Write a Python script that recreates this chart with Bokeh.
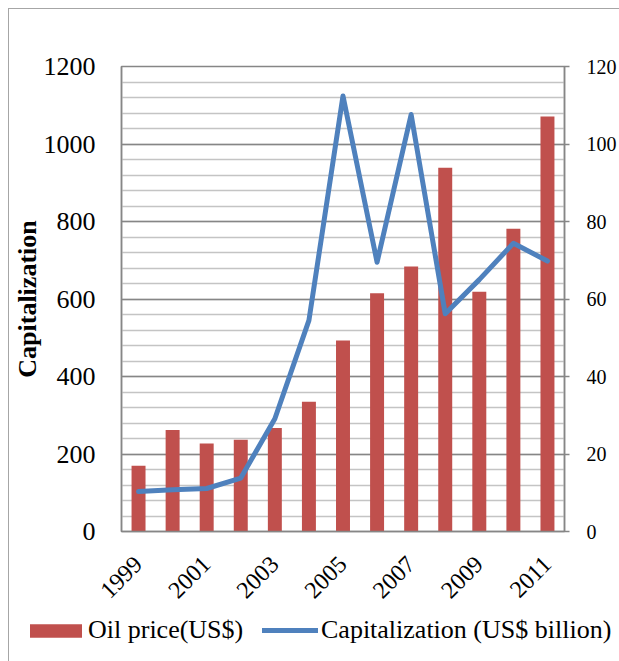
import math

from bokeh.embed import file_html
from bokeh.resources import INLINE
from bokeh.layouts import column
from bokeh.plotting import figure
from bokeh.models import (Range1d, LinearAxis, FixedTicker, SingleIntervalTicker,
                          Legend, LegendItem, ColumnDataSource)

# Annual series, 1999-2011
years = ["1999", "2000", "2001", "2002", "2003", "2004", "2005",
         "2006", "2007", "2008", "2009", "2010", "2011"]
oil_price = [170, 262, 227, 237, 267, 335, 493, 615, 684, 939, 619, 781, 1071]
capitalization = [10.3, 10.8, 11.1, 13.8, 29.1, 54.5, 112.4, 69.5, 107.6, 56.2, 65.0, 74.4, 69.8]
shown_years = ["1999", "2001", "2003", "2005", "2007", "2009", "2011"]

FONT = "Liberation Serif"
RED = "#C0504D"
BLUE = "#4F81BD"
AXIS_GREY = "#868686"

idx = list(range(len(years)))
src = ColumnDataSource(dict(x=idx, oil=oil_price, cap=capitalization))

p = figure(width=610, height=603, output_backend="svg", toolbar_location=None,
           x_range=Range1d(-0.5, len(years) - 0.5), y_range=Range1d(0, 1200),
           min_border_left=111, min_border_top=57, min_border_right=54,
           min_border_bottom=81)
p.frame_align = False
p.outline_line_color = AXIS_GREY
p.outline_line_width = 1.5
p.background_fill_color = "white"
p.border_fill_color = "white"

p.extra_y_ranges = {"cap": Range1d(0, 120)}

p.vbar(x="x", top="oil", width=0.41, source=src, fill_color=RED, line_color=None)
p.line(x="x", y="cap", source=src, y_range_name="cap", line_color=BLUE,
       line_width=5, line_join="round", line_cap="round")

# left axis (oil price scale)
yl = p.yaxis[0]
yl.ticker = SingleIntervalTicker(interval=200, num_minor_ticks=5)
yl.major_label_text_font = FONT
yl.major_label_text_font_size = "26px"
yl.major_label_text_color = "black"
yl.major_tick_line_color = None
yl.minor_tick_line_color = None
yl.major_tick_out = 0
yl.major_label_standoff = 22
yl.axis_line_color = AXIS_GREY
yl.axis_line_width = 1.5
yl.axis_label = "Capitalization"
yl.axis_label_text_font = FONT
yl.axis_label_text_font_size = "26px"
yl.axis_label_text_font_style = "bold"
yl.axis_label_text_color = "black"
yl.axis_label_standoff = -1

# right axis (capitalization scale)
yr = LinearAxis(y_range_name="cap", ticker=FixedTicker(ticks=[0, 20, 40, 60, 80, 100, 120]))
yr.major_label_orientation = 0
yr.major_label_text_font = FONT
yr.major_label_text_font_size = "20px"
yr.major_label_text_color = "black"
yr.major_label_text_align = "left"
yr.major_tick_line_color = AXIS_GREY
yr.major_tick_line_width = 1.5
yr.major_tick_out = 5
yr.major_tick_in = 0
yr.minor_tick_line_color = None
yr.major_label_standoff = 17
yr.axis_line_color = AXIS_GREY
yr.axis_line_width = 1.5
p.add_layout(yr, "right")

# bottom axis with every other year
xa = p.xaxis[0]
xa.ticker = FixedTicker(ticks=[years.index(y) for y in shown_years])
xa.major_label_overrides = {years.index(y): y for y in shown_years}
xa.major_label_orientation = math.pi / 4
xa.major_label_text_font = FONT
xa.major_label_text_font_size = "24px"
xa.major_label_text_color = "black"
xa.major_tick_line_color = None
xa.minor_tick_line_color = None
xa.major_tick_out = 0
xa.major_label_standoff = 29
xa.axis_line_color = AXIS_GREY
xa.axis_line_width = 1.5

# gridlines
p.xgrid.grid_line_color = None
p.ygrid.ticker = SingleIntervalTicker(interval=200, num_minor_ticks=5)
p.ygrid.grid_line_color = AXIS_GREY
p.ygrid.grid_line_width = 1.5
p.ygrid.minor_grid_line_color = "#c4c4c4"
p.ygrid.minor_grid_line_width = 1.5

# legend strip underneath the chart; its sample glyphs sit outside the visible range
leg = figure(width=610, height=49, output_backend="svg", toolbar_location=None,
             x_range=Range1d(0, 1), y_range=Range1d(0, 1),
             x_axis_location=None, y_axis_location=None, min_border=0)
leg.frame_align = False
leg.grid.visible = False
leg.outline_line_color = None
leg.background_fill_color = "white"
leg.border_fill_color = "white"
keys = ColumnDataSource(dict(x=[5, 6], y=[5, 6]))
k_bar = leg.vbar(x="x", top="y", width=0.41, source=keys, fill_color=RED, line_color=None)
k_line = leg.line(x="x", y="y", source=keys, line_color=BLUE, line_width=5, line_cap="round")

common = dict(orientation="horizontal", label_text_font=FONT, label_text_font_size="26px",
              label_text_color="black", padding=0, margin=0,
              border_line_color=None, background_fill_alpha=0)
leg_oil = Legend(items=[LegendItem(label="Oil price(US$)", renderers=[k_bar])],
                 location=(14, 16), glyph_width=65, glyph_height=17, label_standoff=0,
                 **common)
leg_cap = Legend(items=[LegendItem(label="Capitalization (US$ billion)", renderers=[k_line])],
                 location=(253, 16), glyph_width=56, glyph_height=14, label_standoff=3,
                 **common)
leg.add_layout(leg_oil, "center")
leg.add_layout(leg_cap, "center")

page = column(p, leg, spacing=0)
page.styles = {"margin-left": "8px", "margin-top": "8px",
               "border-left": "1px solid #a6a6a6", "border-top": "1px solid #a6a6a6"}

open("out.html", "w").write(file_html(page, INLINE))
